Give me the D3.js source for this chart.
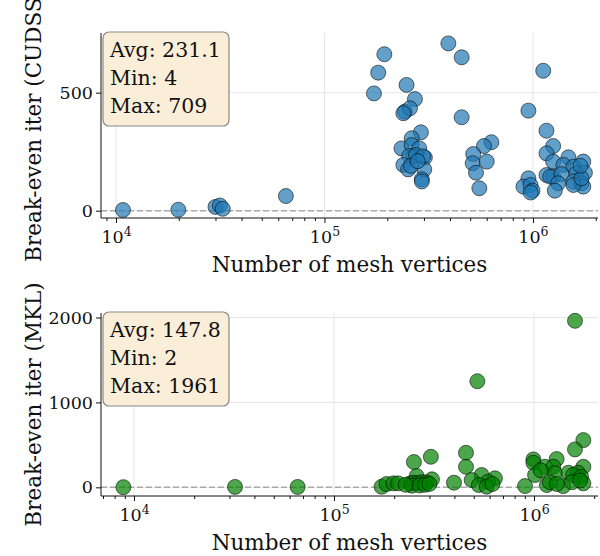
<!DOCTYPE html>
<html>
<head>
<meta charset="utf-8">
<script src="https://cdn.jsdelivr.net/npm/d3@7"></script>
<style>
  body { margin: 0; background: #fff; }
  text { font-family: "DejaVu Serif", "Liberation Serif", serif; fill: #111; }
  .domain { stroke: #111; }
</style>
</head>
<body>
<script>
// Data
var cudssVerts = [10800, 19900, 30000, 31500, 32500, 65300, 193700, 181000, 172700, 247600,
  271600, 243000, 257000, 239000, 392700, 455000, 455000, 951000, 1120000, 1161000,
  290000, 262000, 234000, 262000, 285000, 267000, 303000, 255000, 275000, 297000,
  239000, 252000, 301000, 293000, 293000, 260000, 280000, 632000, 582000, 517000,
  514000, 600000, 533000, 553000, 951000, 900000, 973000, 995000, 975000, 1250000,
  1161000, 1250000, 1479000, 1743000, 1400000, 1563000, 1161000, 1250000, 1210000, 1371000,
  1618000, 1775000, 1563000, 1710000, 1743000, 1320000, 1273000, 1563000, 1710000, 1690000];
var cudssIters = [3, 4, 16, 22, 8, 62, 663, 585, 497, 533,
  473, 420, 434, 413, 709, 650, 396, 424, 593, 339,
  332, 307, 264, 278, 264, 229, 225, 232, 236, 230,
  194, 175, 175, 133, 124, 190, 210, 290, 274, 240,
  201, 208, 161, 95, 137, 102, 109, 85, 77, 274,
  243, 208, 226, 208, 194, 186, 151, 144, 144, 155,
  158, 161, 123, 116, 102, 116, 85, 109, 137, 190];

var mklVerts = [8850, 32000, 65800, 1603000, 521000, 1765000, 1603000, 457000, 457000, 305000,
  251000, 259000, 309000, 1298000, 993000, 993000, 1135000, 1250000, 1273000, 1765000,
  1012000, 1486000, 1660000, 1570000, 1720000, 547000, 488000, 638000, 590000, 530000,
  580000, 902000, 1160000, 1400000, 1765000, 398000, 173000, 183000, 198000, 209000,
  240000, 250000, 262000, 275000, 290000, 245000, 268000, 285000, 300000, 228000,
  1200000, 1300000, 1550000, 1700000, 620000, 1080000];
var mklIters = [2, 5, 5, 1961, 1250, 556, 447, 407, 242, 360,
  298, 133, 94, 333, 329, 290, 242, 242, 165, 242,
  145, 172, 172, 145, 125, 145, 86, 106, 67, 27,
  8, 15, 27, 15, 47, 55, 7, 39, 47, 47,
  45, 55, 50, 60, 58, 20, 22, 30, 40, 30,
  60, 40, 60, 80, 40, 200];

var xTicks = [1e4, 1e5, 1e6];
var xTickExp = ["4", "5", "6"];
var cudssYTicks = [0, 500];
var mklYTicks = [0, 1000, 2000];
var cudssStats = ["Avg: 231.1", "Min: 4", "Max: 709"];
var mklStats = ["Avg: 147.8", "Min: 2", "Max: 1961"];

var width = 600, height = 556;
var svg = d3.select("body").append("svg")
  .attr("width", width)
  .attr("height", height);

var minorTicks = [];
[1e3, 1e4, 1e5, 1e6].forEach(function(d) {
  for (var k = 2; k <= 9; k++) minorTicks.push(d * k);
});

function drawPanel(opt) {
  var x = d3.scaleLog().domain(opt.xDomain).range([opt.left, opt.right]);
  var y = d3.scaleLinear().domain(opt.yDomain).range([opt.bottom, opt.top]);
  var g = svg.append("g");
  var minors = minorTicks.filter(function(d) { return d >= opt.xDomain[0] && d <= opt.xDomain[1]; });

  // grid
  g.append("g").selectAll("line").data(xTicks).enter().append("line")
    .attr("x1", function(d) { return x(d); }).attr("x2", function(d) { return x(d); })
    .attr("y1", opt.top).attr("y2", opt.bottom)
    .style("stroke", "#e6e6e6").style("stroke-width", 1);
  g.append("g").selectAll("line").data(opt.yTicks).enter().append("line")
    .attr("x1", opt.left).attr("x2", opt.right)
    .attr("y1", function(d) { return y(d); }).attr("y2", function(d) { return y(d); })
    .style("stroke", "#e6e6e6").style("stroke-width", 1);

  // zero line
  g.append("line")
    .attr("x1", opt.left).attr("x2", opt.right)
    .attr("y1", y(0)).attr("y2", y(0))
    .style("stroke", "#aaaaaa").style("stroke-width", 1.5)
    .style("stroke-dasharray", "6,3");

  // points
  g.append("g").selectAll("circle")
    .data(opt.xs.map(function(v, i) { return [v, opt.ys[i]]; }))
    .enter().append("circle")
    .attr("cx", function(d) { return x(d[0]); })
    .attr("cy", function(d) { return y(d[1]); })
    .attr("r", 7.5)
    .style("fill", opt.color).style("fill-opacity", 0.7)
    .style("stroke", "#000").style("stroke-opacity", 0.7).style("stroke-width", 0.8);

  // axes
  var xa = g.append("g").attr("transform", "translate(0," + opt.bottom + ")")
    .call(d3.axisBottom(x).tickValues(xTicks).tickSize(5).tickFormat(""));
  xa.selectAll(".tick text").remove();
  xa.selectAll(".tick").append("text")
    .attr("y", 25)
    .style("text-anchor", "middle").style("font-size", "17.5px")
    .each(function(d, i) {
      var t = d3.select(this);
      t.append("tspan").text("10");
      t.append("tspan").attr("dy", "-0.6em").style("font-size", "12.5px").text(xTickExp[i]);
    });
  g.append("g").attr("transform", "translate(0," + opt.bottom + ")")
    .call(d3.axisBottom(x).tickValues(minors).tickSize(3).tickFormat(""))
    .select(".domain").remove();

  var ya = g.append("g").attr("transform", "translate(" + opt.left + ",0)")
    .call(d3.axisLeft(y).tickValues(opt.yTicks).tickSize(5).tickFormat(d3.format("d")));
  ya.selectAll(".tick text").style("font-size", "17.5px").attr("x", -8).attr("fill", "#111");
  ya.select(".domain").attr("d", "M0," + opt.bottom + "V" + opt.top);
  xa.select(".domain").attr("d", "M" + opt.left + ",0H" + opt.right);
  g.selectAll(".tick line").style("stroke", "#111");

  // axis labels
  g.append("text")
    .attr("x", (opt.left + opt.right) / 2).attr("y", opt.bottom + 54)
    .style("text-anchor", "middle").style("font-size", "21.5px")
    .text("Number of mesh vertices");
  g.append("text")
    .attr("transform", "translate(41," + ((opt.top + opt.bottom) / 2) + ") rotate(-90)")
    .style("text-anchor", "middle").style("font-size", "21.5px")
    .text(opt.yLabel);

  // stats box
  g.append("rect")
    .attr("x", opt.left + 2).attr("y", opt.top - 1)
    .attr("width", 126).attr("height", 94).attr("rx", 6)
    .style("fill", "#faeed9").style("stroke", "#888").style("stroke-width", 1.2);
  g.selectAll(".stat").data(opt.stats).enter().append("text")
    .attr("x", opt.left + 9)
    .attr("y", function(d, i) { return opt.top + 24 + i * 28; })
    .style("font-size", "20.5px")
    .text(function(d) { return d; });
}

drawPanel({
  xs: cudssVerts, ys: cudssIters, color: "#1f77b4",
  xDomain: [Math.pow(10, 3.928), Math.pow(10, 6.312)],
  yDomain: [-31, 753], yTicks: cudssYTicks,
  left: 101, right: 598, top: 33, bottom: 218,
  yLabel: "Break-even iter (CUDSS)", stats: cudssStats
});

drawPanel({
  xs: mklVerts, ys: mklIters, color: "green",
  xDomain: [Math.pow(10, 3.835), Math.pow(10, 6.32)],
  yDomain: [-102, 2053], yTicks: mklYTicks,
  left: 101, right: 598, top: 313, bottom: 496,
  yLabel: "Break-even iter (MKL)", stats: mklStats
});
</script>
</body>
</html>
